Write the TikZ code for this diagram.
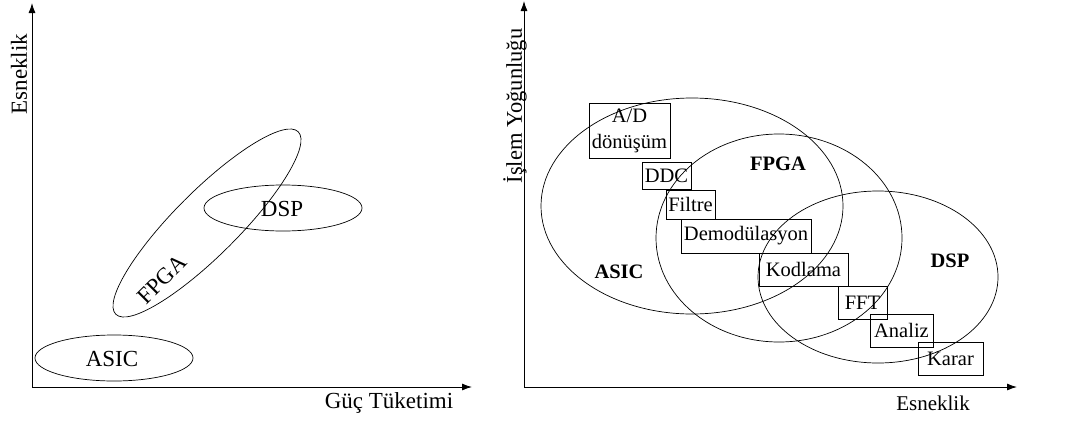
\documentclass[tikz,border=0pt]{standalone}
\usepackage{fontspec}
\setmainfont{Liberation Serif}
\usetikzlibrary{shapes.geometric,arrows.meta}
\tikzset{
  axis/.style={line width=0.9pt,-{Latex[length=10pt,width=7pt]}},
  oval/.style={draw,ellipse,inner sep=0pt,line width=0.7pt},
  lbox/.style={draw,rectangle,inner sep=0pt,line width=0.7pt,align=center,font=\fontsize{20.5}{26}\selectfont},
  ltxt/.style={font=\fontsize{23}{26}\selectfont,inner sep=0pt},
  rtxt/.style={font=\fontsize{21}{24}\selectfont,inner sep=0pt},
  btxt/.style={font=\fontsize{20.5}{24}\selectfont\bfseries,inner sep=0pt}
}
\begin{document}
\begin{tikzpicture}[x=1pt,y=-1pt]
\useasboundingbox (0,0) rectangle (1086,423);
% ---- left panel ----
\coordinate (lo) at (32,387);
\coordinate (ly) at (32,3);
\coordinate (lx) at (472,387);
\draw[axis] (lo) -- (ly);
\draw[axis] (lo) -- (lx);
\node[ltxt,rotate=90] (lyl) at (19,74) {Esneklik};
\node[ltxt] (lxl) at (389,403) {Güç Tüketimi};
\node[oval,minimum width=158pt,minimum height=46pt] (lasic) at (114,358) {};
\node[ltxt] (lasict) at (112,359) {ASIC};
\node[oval,minimum width=258pt,minimum height=64pt,rotate=45] (lfpga) at (207,223) {};
\node[ltxt,rotate=45] (lfpgat) at (162,279) {FPGA};
\node[oval,minimum width=158pt,minimum height=46pt] (ldsp) at (283,208) {};
\node[ltxt] (ldspt) at (282,209) {DSP};
% ---- right panel ----
\coordinate (ro) at (524,387);
\coordinate (ry) at (524,1);
\coordinate (rx) at (1017,387);
\draw[axis] (ro) -- (ry);
\draw[axis] (ro) -- (rx);
\node[rtxt,font=\fontsize{22.5}{25}\selectfont,rotate=90] (ryl) at (515,106) {İşlem Yoğunluğu};
\node[rtxt] (rxl) at (933,403) {Esneklik};
\node[oval,minimum width=302pt,minimum height=216pt] (rasic) at (692,206) {};
\node[oval,minimum width=246pt,minimum height=208pt] (rfpga) at (779,238) {};
\node[oval,minimum width=240pt,minimum height=172pt] (rdsp) at (878,277) {};
\node[btxt] (rfpgat) at (778,164) {FPGA};
\node[btxt] (rasict) at (619,272) {ASIC};
\node[btxt] (rdspt) at (950,261) {DSP};
\node[lbox,minimum width=81pt,minimum height=55pt] (ad) at (629.5,130.5) {A/D\\dönüşüm};
\node[lbox,minimum width=49pt,minimum height=27pt] (ddc) at (666.5,175.5) {DDC};
\node[lbox,minimum width=49pt,minimum height=29pt] (fil) at (690.5,204.5) {Filtre};
\node[lbox,minimum width=130pt,minimum height=34pt] (dem) at (746,236) {Demodülasyon};
\node[lbox,minimum width=89pt,minimum height=33pt] (kod) at (803.5,269.5) {Kodlama};
\node[lbox,minimum width=49pt,minimum height=33pt] (fft) at (862.5,302.5) {FFT};
\node[lbox,minimum width=63pt,minimum height=33pt] (ana) at (901.5,330.5) {Analiz};
\node[lbox,minimum width=65pt,minimum height=33pt] (kar) at (950.5,358.5) {Karar};
\end{tikzpicture}
\end{document}
